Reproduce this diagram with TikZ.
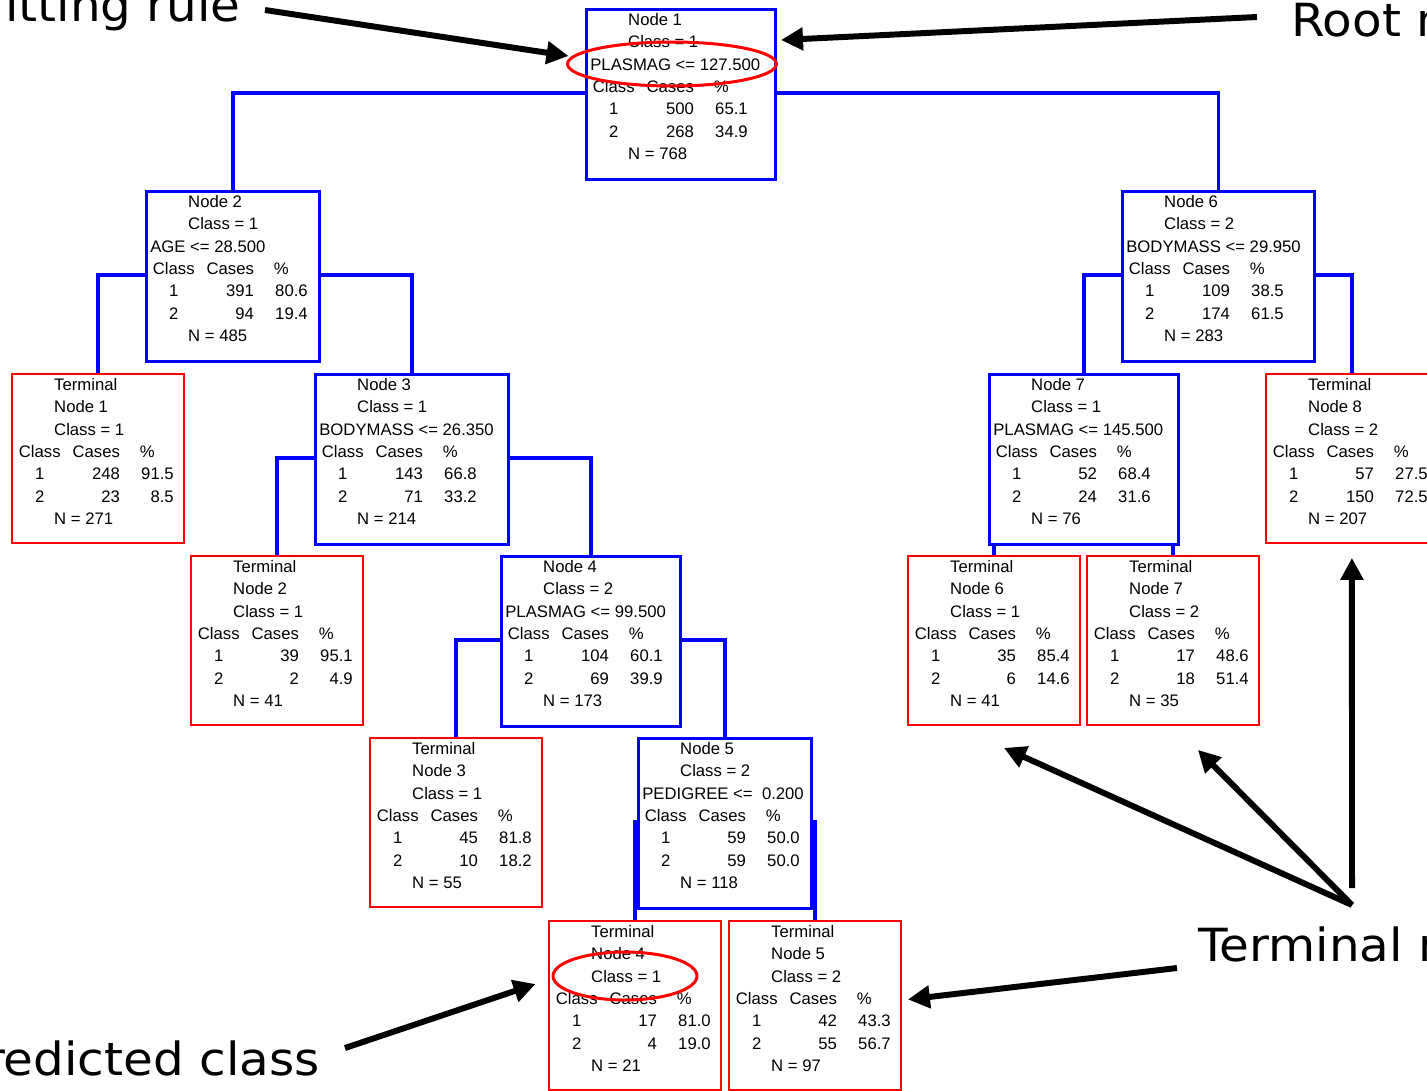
\documentclass[tikz,border=0pt]{standalone}
\usepackage{fontspec}
\setmainfont{Liberation Sans}
\newfontfamily\calloutfont[FakeStretch=1.06]{DejaVu Sans}
\usepackage{array}
\usetikzlibrary{arrows.meta, shapes.geometric, backgrounds}

% one pixel of the drawing grid
\newlength{\pxu}
\setlength{\pxu}{0.5669pt}

\newcommand{\headrow}[1]{\multicolumn{3}{@{\hspace{38\pxu}}l@{}}{\makebox[0pt][l]{#1}}}
\newcommand{\rulerow}[1]{\multicolumn{3}{@{}l@{}}{\makebox[0pt][l]{#1}}}
\newcommand{\countrows}[4]{%
  Class & Cases\hspace{6\pxu} & \multicolumn{1}{@{\hspace{20\pxu}}l@{}}{\%}\\
  1 & #1 & #2\\
  2 & #3 & #4\\}
\newcommand{\splittab}[8]{%
  \begin{tabular}{@{}wc{47\pxu}@{}wr{57\pxu}@{}wr{54\pxu}@{}}
  \headrow{Node #1}\\
  \headrow{Class = #2}\\
  \rulerow{#3}\\
  \countrows{#4}{#5}{#6}{#7}
  \headrow{N = #8}
  \end{tabular}}
\newcommand{\termtab}[7]{%
  \begin{tabular}{@{}wc{47\pxu}@{}wr{57\pxu}@{}wr{54\pxu}@{}}
  \headrow{Terminal}\\
  \headrow{Node #1}\\
  \headrow{Class = #2}\\
  \countrows{#3}{#4}{#5}{#6}
  \headrow{N = #7}
  \end{tabular}}

\begin{document}
\begin{tikzpicture}[
    x=0.02cm, y=-0.02cm,
    splitbox/.style={draw=blue, line width=1.7pt, fill=white, anchor=north west,
        inner sep=0pt, minimum height=3.4cm, minimum width=#1*0.02cm},
    termbox/.style={draw=red, line width=1.1pt, fill=white, anchor=north west,
        inner sep=0pt, minimum height=3.38cm, minimum width=3.44cm},
    boxtext/.style={anchor=north west, inner sep=0pt, xshift=0.1cm, yshift=-0.026cm,
        font=\fontsize{9.5}{12.75}\selectfont},
    link/.style={draw=blue, line width=1.9pt},
    ring/.style={ellipse, draw=red, line width=1.7pt, inner sep=0pt},
    callout/.style={font=\calloutfont\fontsize{26}{30}\selectfont, inner sep=0pt},
    pointer/.style={line width=3.4pt, -{Triangle[length=0.44cm, width=0.44cm]}}
]
\useasboundingbox (0,0) rectangle (1427,1090);
\clip (0,0) rectangle (1427,1090);

% split nodes
\node[splitbox=189] (n1) at (585,8) {};
\node[boxtext] (n1t) at (n1.north west) {\splittab{1}{1}{PLASMAG <= 127.500}{500}{65.1}{268}{34.9}{768}};
\node[splitbox=173] (n2) at (145,190) {};
\node[boxtext] (n2t) at (n2.north west) {\splittab{2}{1}{AGE <= 28.500}{391}{80.6}{94}{19.4}{485}};
\node[splitbox=193] (n3) at (314,373) {};
\node[boxtext] (n3t) at (n3.north west) {\splittab{3}{1}{BODYMASS <= 26.350}{143}{66.8}{71}{33.2}{214}};
\node[splitbox=179] (n4) at (500,555) {};
\node[boxtext] (n4t) at (n4.north west) {\splittab{4}{2}{PLASMAG <= 99.500}{104}{60.1}{69}{39.9}{173}};
\node[splitbox=173] (n5) at (637,737) {};
\node[boxtext] (n5t) at (n5.north west) {\splittab{5}{2}{PEDIGREE <=\ \ 0.200}{59}{50.0}{59}{50.0}{118}};
\node[splitbox=192] (n6) at (1121,190) {};
\node[boxtext] (n6t) at (n6.north west) {\splittab{6}{2}{BODYMASS <= 29.950}{109}{38.5}{174}{61.5}{283}};
\node[splitbox=189] (n7) at (988,373) {};
\node[boxtext] (n7t) at (n7.north west) {\splittab{7}{1}{PLASMAG <= 145.500}{52}{68.4}{24}{31.6}{76}};

% terminal nodes
\node[termbox] (t1) at (11,373) {};
\node[boxtext] (t1t) at (t1.north west) {\termtab{1}{1}{248}{91.5}{23}{8.5}{271}};
\node[termbox] (t2) at (190,555) {};
\node[boxtext] (t2t) at (t2.north west) {\termtab{2}{1}{39}{95.1}{2}{4.9}{41}};
\node[termbox] (t3) at (369,737) {};
\node[boxtext] (t3t) at (t3.north west) {\termtab{3}{1}{45}{81.8}{10}{18.2}{55}};
\node[termbox] (t4) at (548,920) {};
\node[boxtext] (t4t) at (t4.north west) {\termtab{4}{1}{17}{81.0}{4}{19.0}{21}};
\node[termbox] (t5) at (728,920) {};
\node[boxtext] (t5t) at (t5.north west) {\termtab{5}{2}{42}{43.3}{55}{56.7}{97}};
\node[termbox] (t6) at (907,555) {};
\node[boxtext] (t6t) at (t6.north west) {\termtab{6}{1}{35}{85.4}{6}{14.6}{41}};
\node[termbox] (t7) at (1086,555) {};
\node[boxtext] (t7t) at (t7.north west) {\termtab{7}{2}{17}{48.6}{18}{51.4}{35}};
\node[termbox] (t8) at (1265,373) {};
\node[boxtext] (t8t) at (t8.north west) {\termtab{8}{2}{57}{27.5}{150}{72.5}{207}};

% tree links behind the boxes
\begin{scope}[on background layer]
\draw[link] ([yshift=-1.7cm]n1.north west) -| (n2.north);
\draw[link] ([yshift=-1.7cm]n1.north east) -| (n6.north);
\draw[link] ([yshift=-1.7cm]n2.north west) -| (t1.north);
\draw[link] ([yshift=-1.7cm]n2.north east) -| (n3.north);
\draw[link] ([yshift=-1.7cm]n3.north west) -| (t2.north);
\draw[link] ([yshift=-1.7cm]n3.north east) -| (n4.north);
\draw[link] ([yshift=-1.7cm]n4.north west) -| (t3.north);
\draw[link] ([yshift=-1.7cm]n4.north east) -| (n5.north);
\draw[link] ([yshift=-1.7cm]n5.north west) -| (t4.north);
\draw[link] ([yshift=-1.7cm]n5.north east) -| (t5.north);
\draw[link] ([yshift=-1.7cm]n6.north west) -| (n7.north);
\draw[link] ([yshift=-1.7cm]n6.north east) -| (t8.north);
\draw[link] ([yshift=-1.7cm]n7.north west) -| (t6.north);
\draw[link] ([yshift=-1.7cm]n7.north east) -| (t7.north);
\end{scope}

% highlights
\node[ring, minimum width=4.18cm, minimum height=0.88cm] (rulering) at (672,64) {};
\node[ring, minimum width=2.88cm, minimum height=0.96cm] (classring) at (625,976) {};

% callouts
\node[callout, anchor=base east] (splitlbl) at (241,21) {Splitting rule};
\node[callout, anchor=base west] (rootlbl) at (1291,36) {Root node};
\node[callout, anchor=base west] (termlbl) at (1198,961) {Terminal nodes};
\node[callout, anchor=base east] (predlbl) at (320,1075) {Predicted class};

\coordinate (splitfrom) at (265,10);
\coordinate (rootfrom) at (1257,17);
\coordinate (predfrom) at (345,1048);
\coordinate (termfrom) at (1177,968);
\coordinate (hub) at (1352,905);
\coordinate (hubtop) at (1352,888);

\draw[pointer] (splitfrom) -- ([xshift=0.05cm, yshift=0.16cm]rulering.west);
\draw[pointer] (rootfrom) -- ([xshift=0.08cm, yshift=-0.64cm]n1.north east);
\draw[pointer] (predfrom) -- ([xshift=-0.32cm, yshift=-0.16cm]classring.west);
\draw[pointer] (termfrom) -- ([xshift=0.12cm, yshift=0.12cm]t5.east);
\draw[pointer] (hub) -- ([xshift=0.2cm, yshift=-0.44cm]t6.south);
\draw[pointer] (hub) -- ([xshift=0.5cm, yshift=-0.48cm]t7.south);
\draw[pointer] (hubtop) -- ([yshift=-0.28cm]t8.south);

\end{tikzpicture}
\end{document}
